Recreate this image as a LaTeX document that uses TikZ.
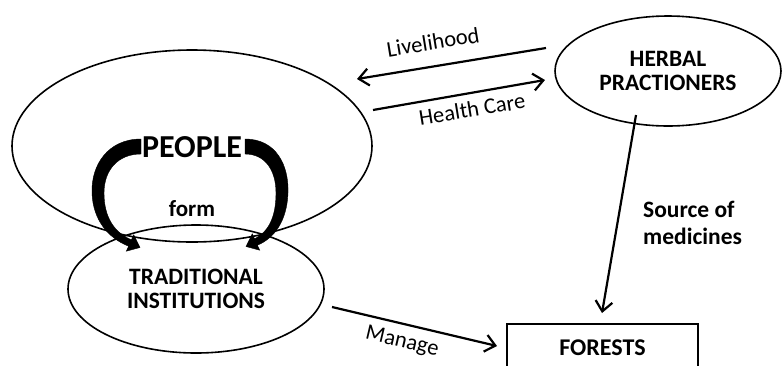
\documentclass[tikz,border=0pt]{standalone}
\usepackage{fontspec}
\setmainfont{Carlito}
\usetikzlibrary{arrows.meta,shapes.geometric}
\begin{document}
\begin{tikzpicture}[x=1pt,y=-1pt,
  oval/.style={draw,ellipse,line width=1.6pt,inner sep=0pt,align=center,font=\bfseries\fontsize{23.5}{27}\selectfont},
  boxnode/.style={draw,rectangle,line width=1.6pt,inner sep=0pt,font=\bfseries\fontsize{24}{28}\selectfont},
  link/.style={line width=2.2pt,-{Straight Barb[length=10pt,width=17pt,line width=2.2pt]}},
  linklabel/.style={font=\fontsize{22.5}{26}\selectfont,inner sep=0pt},
  bigarrow/.style={fill=black,draw=black,line width=0.4pt,line join=miter}
]
\useasboundingbox (0,0) rectangle (782,365);

% main ovals
\node[oval,minimum width=360pt,minimum height=192pt] (people) at (192,146) {};
\node[font=\bfseries\fontsize{32}{36}\selectfont,inner sep=1pt] (peopletext) at (192,147) {PEOPLE};
\node[oval,minimum width=256pt,minimum height=128pt] (trad) at (196,289) {TRADITIONAL\\[-3pt]INSTITUTIONS};
\node[oval,minimum width=226pt,minimum height=110pt] (herbal) at (668,71) {HERBAL\\[-3pt]PRACTIONERS};
\node[boxnode,minimum width=191pt,minimum height=48pt,anchor=north] (forests) at (602.5,323) {FORESTS};

\node[font=\bfseries\fontsize{23}{26}\selectfont] (form) at (192,209) {form};

% end points of the connectors
\coordinate (liveS) at (546,48);
\coordinate (liveE) at (357,79);
\coordinate (careS) at (373,110);
\coordinate (careE) at (545,80);
\coordinate (srcS) at (636,115);
\coordinate (srcE) at (602,313);
\coordinate (manS) at (332,307);
\coordinate (manE) at (497,346);

\draw[link] (liveS) -- (liveE);
\draw[link] (careS) -- (careE);
\draw[link] (srcS) -- (srcE);
\draw[link] (manS) -- (manE);

\node[linklabel,rotate=9.3] (livelbl) at (433,42) {Livelihood};
\node[linklabel,rotate=9.3] (carelbl) at (472,109) {Health Care};
\node[linklabel,rotate=-13.3] (manlbl) at (402,342) {Manage};
\node[font=\bfseries\fontsize{23.5}{27}\selectfont,align=left,anchor=west,inner sep=0pt] (srclbl) at (643,223) {Source of\\medicines};

% tapered curved arrows from PEOPLE down to the institutions
\filldraw[bigarrow]
  (141,139) .. controls (108,139) and (91,165) .. (92,193)
  .. controls (93,220) and (108,238) .. (128.6,246.2)
  -- (126.3,251.2) -- (140,247.5) -- (133.7,234.8) -- (131.4,239.8)
  .. controls (115,233) and (104,218) .. (104,193)
  .. controls (104,170) and (118,154) .. (141,154) -- cycle;
\filldraw[bigarrow]
  (245,139) .. controls (276,139) and (289,165) .. (288,193)
  .. controls (287,220) and (275,238) .. (257.4,245.2)
  -- (259.7,250.2) -- (246,246.5) -- (252.3,233.8) -- (254.6,238.8)
  .. controls (268,232) and (276,218) .. (276,193)
  .. controls (276,170) and (265,154) .. (245,154) -- cycle;
\end{tikzpicture}
\end{document}
